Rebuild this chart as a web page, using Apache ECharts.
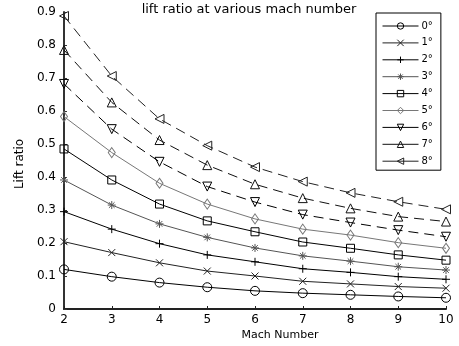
<!DOCTYPE html>
<html>
<head>
<meta charset="utf-8">
<script src="https://cdn.jsdelivr.net/npm/echarts@6/dist/echarts.min.js"></script>
<style>
  html, body { margin: 0; padding: 0; background: #fff; }
  #chart { width: 459px; height: 346px; }
</style>
</head>
<body>
<div id="chart"></div>
<script>
// Mach numbers on the x axis
var machNumbers = [2, 3, 4, 5, 6, 7, 8, 9, 10];
// angle of attack names (legend)
var angleNames = ['0°', '1°', '2°', '3°', '4°', '5°', '6°', '7°', '8°'];

// lift ratio, one list per angle
var lift0 = [0.120, 0.098, 0.080, 0.066, 0.055, 0.048, 0.043, 0.038, 0.034];
var lift1 = [0.204, 0.171, 0.140, 0.115, 0.100, 0.084, 0.076, 0.068, 0.063];
var lift2 = [0.295, 0.242, 0.198, 0.164, 0.143, 0.122, 0.111, 0.098, 0.090];
var lift3 = [0.391, 0.315, 0.258, 0.217, 0.185, 0.161, 0.145, 0.128, 0.118];
var lift4 = [0.485, 0.391, 0.318, 0.267, 0.234, 0.203, 0.184, 0.164, 0.148];
var lift5 = [0.583, 0.474, 0.381, 0.318, 0.273, 0.242, 0.224, 0.201, 0.184];
var lift6 = [0.682, 0.545, 0.446, 0.371, 0.324, 0.286, 0.262, 0.239, 0.219];
var lift7 = [0.785, 0.626, 0.512, 0.436, 0.378, 0.336, 0.305, 0.280, 0.265];
var lift8 = [0.888, 0.706, 0.576, 0.495, 0.430, 0.386, 0.352, 0.325, 0.302];

var liftLists = [lift0, lift1, lift2, lift3, lift4, lift5, lift6, lift7, lift8];

// marker look for each line (matlab style markers)
var markers = [
  { symbol: 'circle', size: 9, rotate: 0 },
  { symbol: 'path://M0,0L10,10M10,0L0,10', size: 7, rotate: 0 },
  { symbol: 'path://M5,0L5,10M0,5L10,5', size: 8, rotate: 0 },
  { symbol: 'path://M5,0L5,10M0,5L10,5M1.5,1.5L8.5,8.5M8.5,1.5L1.5,8.5', size: 8, rotate: 0 },
  { symbol: 'rect', size: 8, rotate: 0 },
  { symbol: 'diamond', size: [7, 10], rotate: 0 },
  { symbol: 'triangle', size: 9, rotate: 180 },
  { symbol: 'triangle', size: 9, rotate: 0 },
  { symbol: 'triangle', size: 9, rotate: 90 }
];
var lineColors = ['#000', '#222', '#000', '#555', '#000', '#777', '#000', '#111', '#222'];

var chart = echarts.init(document.getElementById('chart'), null, { renderer: 'canvas' });

var series = liftLists.map(function (list, k) {
  return {
    name: angleNames[k],
    type: 'line',
    data: machNumbers.map(function (m, i) { return [m, list[i]]; }),
    symbol: markers[k].symbol,
    symbolSize: markers[k].size,
    symbolRotate: markers[k].rotate,
    showAllSymbol: true,
    lineStyle: {
      color: lineColors[k],
      width: 1,
      type: k >= 6 ? [10, 6] : 'solid'
    },
    itemStyle: {
      color: 'transparent',
      borderColor: lineColors[k],
      borderWidth: 1
    },
    emphasis: { disabled: true },
    z: 2
  };
});

var option = {
  animation: false,
  backgroundColor: '#fff',
  textStyle: { fontFamily: 'DejaVu Sans' },
  grid: { left: 64, right: 13, top: 12, bottom: 37 },
  legend: {
    orient: 'vertical',
    left: 376,
    top: 13,
    data: angleNames,
    itemWidth: 36,
    itemHeight: 8,
    itemGap: 6.9,
    padding: [8, 8, 4, 6],
    backgroundColor: '#fff',
    borderColor: '#000',
    borderWidth: 1,
    borderRadius: 0,
    lineStyle: { width: 1, type: 'solid' },
    itemStyle: { borderWidth: 1 },
    textStyle: { fontSize: 10, color: '#000', fontFamily: 'DejaVu Sans', padding: [0, 0, 0, -2] }
  },
  xAxis: {
    type: 'value',
    min: 2,
    max: 10,
    interval: 1,
    axisLine: { lineStyle: { color: '#222', width: 2 } },
    axisTick: { inside: true, length: 3, lineStyle: { color: '#222' } },
    axisLabel: { color: '#000', fontSize: 12, margin: 5, fontFamily: 'DejaVu Sans' },
    splitLine: { show: false }
  },
  yAxis: {
    type: 'value',
    min: 0,
    max: 0.9,
    interval: 0.1,
    axisLine: { show: true, lineStyle: { color: '#333', width: 2 } },
    axisTick: { show: true, inside: true, length: 3, lineStyle: { color: '#333' } },
    axisLabel: {
      color: '#000',
      fontSize: 12,
      margin: 8,
      fontFamily: 'DejaVu Sans',
      formatter: function (v) { return v === 0 ? '0' : (+v.toFixed(1)).toString(); }
    },
    splitLine: { show: false }
  },
  graphic: [
    {
      type: 'text',
      x: 249, y: 10,
      style: {
        text: 'lift ratio at various mach number',
        font: '13px "DejaVu Sans"',
        fill: '#000',
        textAlign: 'center',
        textVerticalAlign: 'middle'
      }
    },
    {
      type: 'text',
      x: 280, y: 335,
      style: {
        text: 'Mach Number',
        font: '11px "DejaVu Sans"',
        fill: '#000',
        textAlign: 'center',
        textVerticalAlign: 'middle'
      }
    },
    {
      type: 'text',
      x: 20, y: 164,
      rotation: Math.PI / 2,
      style: {
        text: 'Lift ratio',
        font: '12px "DejaVu Sans"',
        fill: '#000',
        textAlign: 'center',
        textVerticalAlign: 'middle'
      }
    }
  ],
  series: series
};

chart.setOption(option);
</script>
</body>
</html>
